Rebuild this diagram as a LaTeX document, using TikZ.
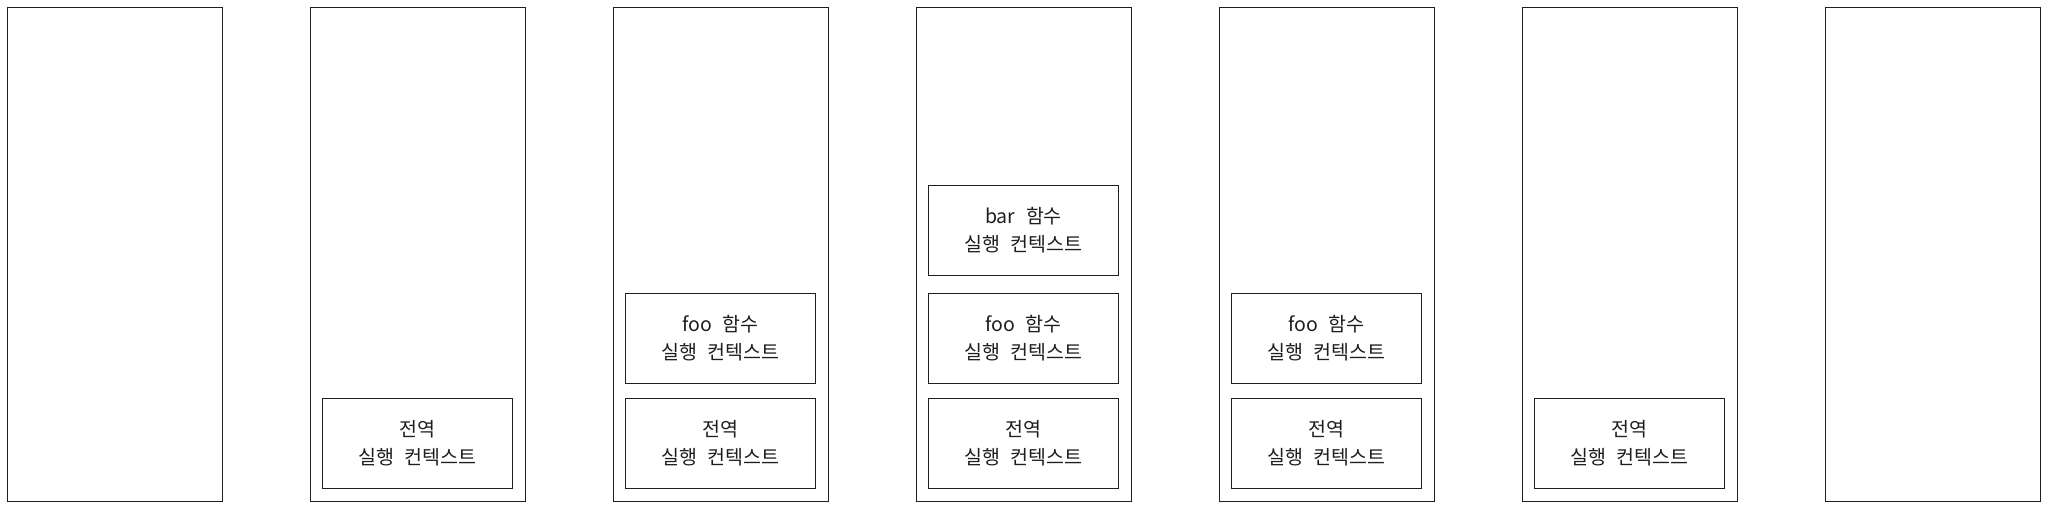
\documentclass[tikz,border=0pt]{standalone}
\usepackage{fontspec}
\setmainfont{Noto Sans CJK KR}
\definecolor{ink}{HTML}{1E1E1E}
\newcommand{\gap}{\hspace{0.55em}}
\begin{document}
\begin{tikzpicture}[x=1pt,y=-1pt,
  column/.style={draw=ink, line width=0.9pt, minimum width=215pt, minimum height=494pt, inner sep=0pt},
  frame/.style={draw=ink, line width=0.9pt, minimum width=190pt, minimum height=90pt, inner sep=0pt,
    align=center, text=ink, font=\fontsize{19.5}{27.5}\selectfont}]
\path[use as bounding box] (0,0) rectangle (2048,508);
% columns
\foreach \i in {1,...,7}{
  \node[column] (c\i) at ({114.5+303*(\i-1)},254) {};
}
% global contexts
\node[frame] (g2) at (417.5,443) {전역\\실행\gap 컨텍스트};
\node[frame] (g3) at (720.5,443) {전역\\실행\gap 컨텍스트};
\node[frame] (g4) at (1023.5,443) {전역\\실행\gap 컨텍스트};
\node[frame] (g5) at (1326.5,443) {전역\\실행\gap 컨텍스트};
\node[frame] (g6) at (1629.5,443) {전역\\실행\gap 컨텍스트};
% foo contexts
\node[frame] (f3) at (720.5,338) {foo\gap 함수\\실행\gap 컨텍스트};
\node[frame] (f4) at (1023.5,338) {foo\gap 함수\\실행\gap 컨텍스트};
\node[frame] (f5) at (1326.5,338) {foo\gap 함수\\실행\gap 컨텍스트};
% bar context
\node[frame] (b4) at (1023.5,230) {bar\gap 함수\\실행\gap 컨텍스트};
\end{tikzpicture}
\end{document}
